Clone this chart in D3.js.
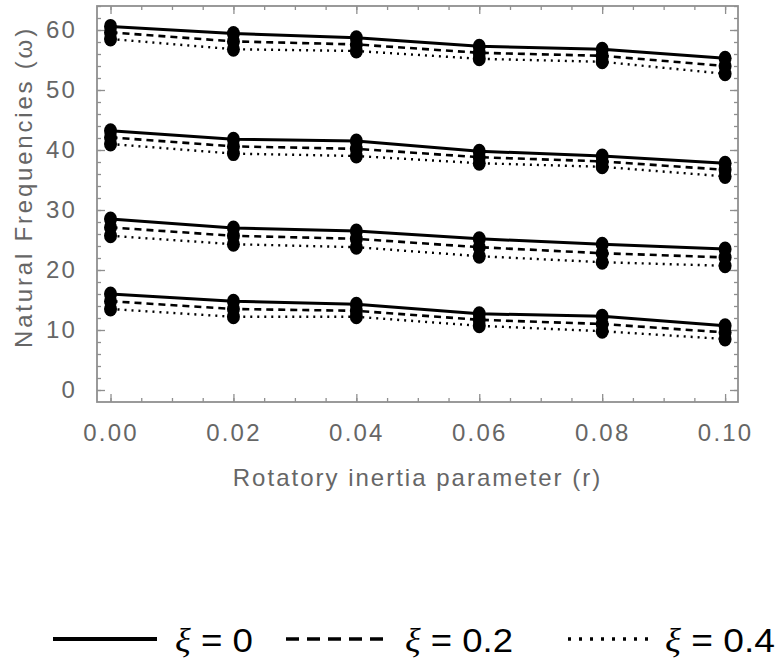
<!DOCTYPE html>
<html>
<head>
<meta charset="utf-8">
<script src="https://cdn.jsdelivr.net/npm/d3@7"></script>
<style>
  body { margin: 0; background: #fff; }
  svg { display: block; }
</style>
</head>
<body>
<div id="my_dataviz"></div>
<script>
// rotatory inertia parameter r
const rValues = [0, 0.02, 0.04, 0.06, 0.08, 0.10];
const xTicks = [0, 0.02, 0.04, 0.06, 0.08, 0.10];
const yTicks = [0, 10, 20, 30, 40, 50, 60];

// natural frequencies, one array per mode, per xi value
const mode1Xi0  = [16.0, 14.8, 14.3, 12.7, 12.3, 10.7];
const mode1Xi02 = [14.8, 13.5, 13.2, 11.7, 11.0, 9.6];
const mode1Xi04 = [13.5, 12.2, 12.2, 10.7, 9.8, 8.5];

const mode2Xi0  = [28.5, 27.0, 26.5, 25.2, 24.3, 23.5];
const mode2Xi02 = [27.1, 25.7, 25.2, 23.8, 22.8, 22.1];
const mode2Xi04 = [25.7, 24.3, 23.8, 22.3, 21.3, 20.7];

const mode3Xi0  = [43.2, 41.8, 41.5, 39.8, 39.0, 37.8];
const mode3Xi02 = [42.1, 40.6, 40.2, 38.8, 38.1, 36.7];
const mode3Xi04 = [41.0, 39.4, 39.0, 37.8, 37.2, 35.6];

const mode4Xi0  = [60.6, 59.4, 58.7, 57.3, 56.8, 55.3];
const mode4Xi02 = [59.6, 58.1, 57.6, 56.2, 55.7, 54.0];
const mode4Xi04 = [58.5, 56.8, 56.5, 55.2, 54.7, 52.7];

const legendLabels = ["0", "0.2", "0.4"];

const series = [
  { xi: 0,   style: "solid",  values: [mode1Xi0, mode2Xi0, mode3Xi0, mode4Xi0] },
  { xi: 0.2, style: "dashed", values: [mode1Xi02, mode2Xi02, mode3Xi02, mode4Xi02] },
  { xi: 0.4, style: "dotted", values: [mode1Xi04, mode2Xi04, mode3Xi04, mode4Xi04] }
];

const lineStyles = {
  solid:  { width: 3, dash: null },
  dashed: { width: 2.6, dash: "7,5" },
  dotted: { width: 2.4, dash: "2,5" }
};

const width = 780, height = 660;
const labelColor = "#666";
const frameColor = "#8f8f8f";

const svg = d3.select("#my_dataviz").append("svg")
  .attr("width", width)
  .attr("height", height);

const x = d3.scaleLinear().domain([-0.0022, 0.1021]).range([97, 738]);
const y = d3.scaleLinear().domain([-2, 64]).range([402, 6]);

const x0 = x.range()[0], x1 = x.range()[1];
const y0 = y.range()[0], y1 = y.range()[1];

// ticks on all four sides, pointing inward
const minorX = d3.range(0, 0.1001, 0.005);
const minorY = d3.range(0, 64.1, 2);

function styleAxis(g) {
  g.select(".domain").remove();
  g.selectAll(".tick line").attr("stroke", frameColor).attr("stroke-width", 1.3);
}

svg.append("g").attr("transform", `translate(0,${y0})`)
  .call(d3.axisBottom(x).tickValues(minorX).tickSize(-4).tickFormat(""))
  .call(styleAxis);
svg.append("g").attr("transform", `translate(0,${y1})`)
  .call(d3.axisTop(x).tickValues(minorX).tickSize(-4).tickFormat(""))
  .call(styleAxis);
svg.append("g").attr("transform", `translate(${x0},0)`)
  .call(d3.axisLeft(y).tickValues(minorY).tickSize(-4).tickFormat(""))
  .call(styleAxis);
svg.append("g").attr("transform", `translate(${x1},0)`)
  .call(d3.axisRight(y).tickValues(minorY).tickSize(-4).tickFormat(""))
  .call(styleAxis);

svg.append("g").attr("transform", `translate(0,${y0})`)
  .call(d3.axisBottom(x).tickValues(xTicks).tickSize(-8).tickPadding(22).tickFormat(d3.format(".2f")))
  .call(styleAxis);
svg.append("g").attr("transform", `translate(0,${y1})`)
  .call(d3.axisTop(x).tickValues(xTicks).tickSize(-8).tickFormat(""))
  .call(styleAxis);
svg.append("g").attr("transform", `translate(${x0},0)`)
  .call(d3.axisLeft(y).tickValues(yTicks).tickSize(-8).tickPadding(20))
  .call(styleAxis);
svg.append("g").attr("transform", `translate(${x1},0)`)
  .call(d3.axisRight(y).tickValues(yTicks).tickSize(-8).tickFormat(""))
  .call(styleAxis);

svg.selectAll(".tick text")
  .attr("fill", labelColor)
  .style("font-family", "'Liberation Sans', Arial, sans-serif")
  .style("font-size", "24px")
  .style("letter-spacing", "2.2px");

// frame
svg.append("rect")
  .attr("x", x0).attr("y", y1)
  .attr("width", x1 - x0).attr("height", y0 - y1)
  .attr("fill", "none")
  .attr("stroke", frameColor)
  .attr("stroke-width", 1.8);

// axis titles
svg.append("text")
  .attr("x", (x0 + x1) / 2)
  .attr("y", 486)
  .attr("text-anchor", "middle")
  .attr("fill", labelColor)
  .style("font-family", "'Liberation Sans', Arial, sans-serif")
  .style("font-size", "24px")
  .style("letter-spacing", "2px")
  .text("Rotatory inertia parameter (r)");

svg.append("text")
  .attr("transform", "translate(32,187) rotate(-90)")
  .attr("text-anchor", "middle")
  .attr("fill", labelColor)
  .style("font-family", "'Liberation Sans', Arial, sans-serif")
  .style("font-size", "24px")
  .style("letter-spacing", "2.8px")
  .text("Natural Frequencies (\u03c9)");

// lines and points
const line = d3.line()
  .x((d, i) => x(rValues[i]))
  .y(d => y(d));

const plot = svg.append("g");

series.forEach(s => {
  const ls = lineStyles[s.style];
  s.values.forEach(vals => {
    plot.append("path")
      .datum(vals)
      .attr("fill", "none")
      .attr("stroke", "#000")
      .attr("stroke-width", ls.width)
      .attr("stroke-dasharray", ls.dash)
      .attr("d", line);
  });
});

series.forEach(s => {
  s.values.forEach(vals => {
    plot.selectAll(null)
      .data(vals)
      .enter().append("ellipse")
      .attr("cx", (d, i) => x(rValues[i]))
      .attr("cy", d => y(d))
      .attr("rx", 6.5)
      .attr("ry", 7.5)
      .attr("fill", "#000");
  });
});

// legend
const legend = svg.append("g");
const legendItems = [
  { style: "solid",  x1: 53,  x2: 157, tx: 175, tw: 78 },
  { style: "dashed", x1: 286, x2: 385, tx: 405, tw: 108 },
  { style: "dotted", x1: 568, x2: 652, tx: 665, tw: 110 }
];
const legendY = 639;

legendItems.forEach((it, i) => {
  const dash = it.style === "solid" ? null : (it.style === "dashed" ? "13,8" : "3,8");
  legend.append("line")
    .attr("x1", it.x1).attr("x2", it.x2)
    .attr("y1", legendY).attr("y2", legendY)
    .attr("stroke", "#000")
    .attr("stroke-width", it.style === "solid" ? 4 : 3.5)
    .attr("stroke-dasharray", dash);

  const t = legend.append("text")
    .attr("x", it.tx)
    .attr("y", legendY + 13)
    .attr("textLength", it.tw)
    .attr("lengthAdjust", "spacingAndGlyphs")
    .attr("fill", "#000")
    .style("font-family", "'Liberation Sans Narrow', 'Liberation Sans', Arial, sans-serif")
    .style("font-size", "34px");
  t.append("tspan")
    .style("font-family", "'Liberation Serif', 'DejaVu Serif', serif")
    .style("font-style", "italic")
    .text("\u03be");
  t.append("tspan").text(" = " + legendLabels[i]);
});
</script>
</body>
</html>
